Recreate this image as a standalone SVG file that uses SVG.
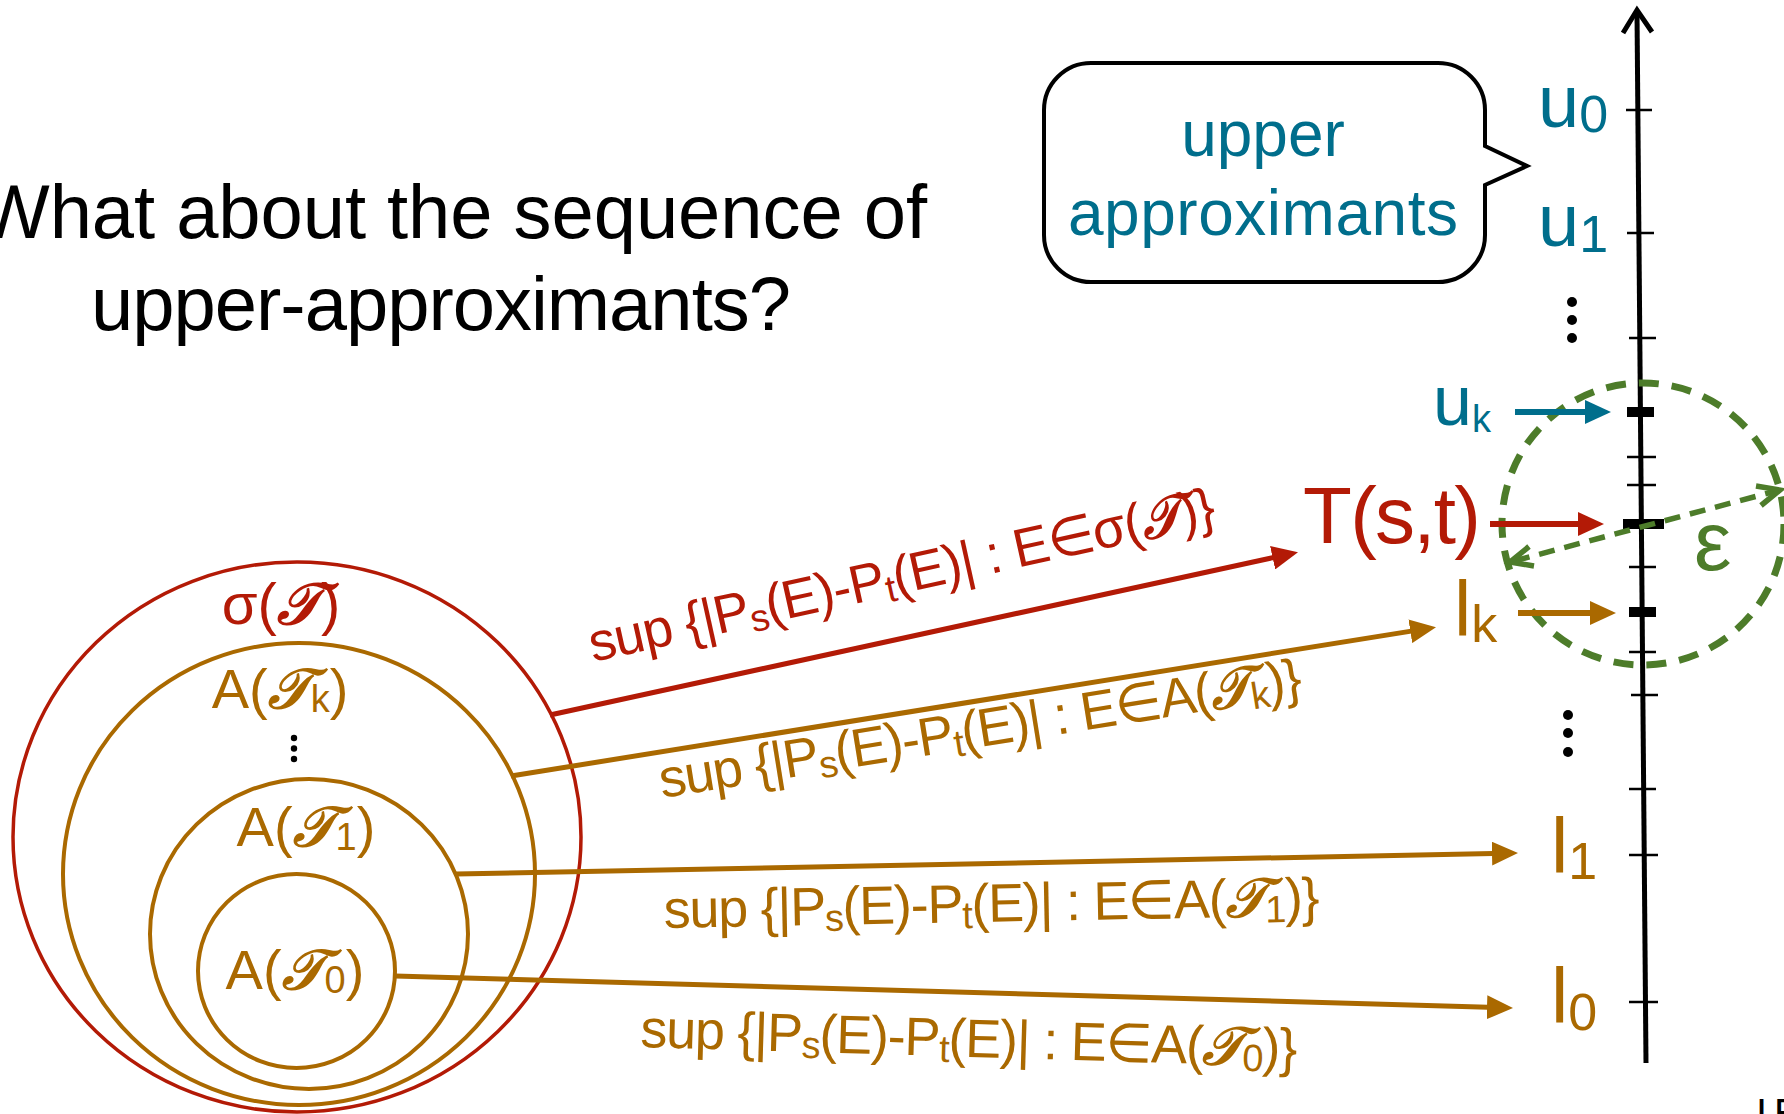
<svg xmlns="http://www.w3.org/2000/svg" width="1784" height="1114" viewBox="0 0 1784 1114">
<style>
text{font-family:"Liberation Sans",Arial,sans-serif}
.red{fill:#b31a06}
.brn{fill:#aa6900}
.teal{fill:#006e8c}
.blk{fill:#000}
.scr{font-family:"DejaVu Serif","DejaVu Sans","Noto Sans",serif;font-style:italic;font-weight:bold}
.ring{fill:none;stroke-width:4}
.cl{fill:none;stroke-width:5}
.tick{stroke:#000;stroke-width:2.5}
.tickb{stroke:#000;stroke-width:10}
.green{stroke:#4d7c2a;fill:none}
</style>
<defs>
<marker id="ah-red" viewBox="0 -12 26 24" refX="1" refY="0" markerWidth="26" markerHeight="24" markerUnits="userSpaceOnUse" orient="auto"><path d="M0,-12 L26,0 L0,12 z" fill="#b31a06"/></marker>
<marker id="ah-brn" viewBox="0 -12 26 24" refX="1" refY="0" markerWidth="26" markerHeight="24" markerUnits="userSpaceOnUse" orient="auto"><path d="M0,-12 L26,0 L0,12 z" fill="#aa6900"/></marker>
<marker id="ah-teal" viewBox="0 -12 26 24" refX="1" refY="0" markerWidth="26" markerHeight="24" markerUnits="userSpaceOnUse" orient="auto"><path d="M0,-12 L26,0 L0,12 z" fill="#006e8c"/></marker>
</defs>
<rect x="0" y="0" width="1784" height="1114" fill="#fff"/>

<g id="title">
<text class="blk" x="-22" y="238" font-size="76" textLength="949">What about the sequence of</text>
<text class="blk" x="91" y="330" font-size="76" textLength="700">upper-approximants?</text>
</g>

<g id="bubble">
<path d="M1091,63 H1438 A47,47 0 0 1 1485,110 V146 L1527,166 L1485,185 V235 A47,47 0 0 1 1438,282 H1091 A47,47 0 0 1 1044,235 V110 A47,47 0 0 1 1091,63 Z" fill="#fff" stroke="#000" stroke-width="4"/>
<text class="teal" x="1263" y="156" font-size="64" text-anchor="middle">upper</text>
<text class="teal" x="1263" y="235" font-size="64" text-anchor="middle" textLength="390">approximants</text>
</g>

<g id="sigma-set">
<ellipse cx="297" cy="837" rx="284" ry="275" fill="none" stroke="#b31a06" stroke-width="3.5"/>
<text class="red" x="281" y="624" font-size="58" text-anchor="middle">σ(<tspan class="scr">𝒯</tspan>)</text>
</g>
<g id="A-Tk">
<ellipse class="ring" cx="299" cy="874" rx="236" ry="231" stroke="#aa6900"/>
<text class="brn" x="280" y="708" font-size="56" text-anchor="middle">A(<tspan class="scr">𝒯</tspan><tspan font-size="38" dy="4">k</tspan><tspan dy="-4">)</tspan></text>
<circle cx="294" cy="738" r="3.2"/><circle cx="294" cy="748.5" r="3.2"/><circle cx="294" cy="759" r="3.2"/>
</g>
<g id="A-T1">
<ellipse class="ring" cx="309" cy="934" rx="159" ry="155" stroke="#aa6900"/>
<text class="brn" x="306" y="846" font-size="56" text-anchor="middle">A(<tspan class="scr">𝒯</tspan><tspan font-size="38" dy="4">1</tspan><tspan dy="-4">)</tspan></text>
</g>
<g id="A-T0">
<ellipse class="ring" cx="296.5" cy="971" rx="98.5" ry="97" stroke="#aa6900"/>
<text class="brn" x="295" y="989" font-size="56" text-anchor="middle">A(<tspan class="scr">𝒯</tspan><tspan font-size="38" dy="4">0</tspan><tspan dy="-4">)</tspan></text>
</g>

<g id="axis">
<line x1="1637" y1="12" x2="1646" y2="1063" stroke="#000" stroke-width="5"/>
<polyline points="1623,33 1637,10 1652,32" fill="none" stroke="#000" stroke-width="5"/>
<line class="tick" x1="1626" y1="110" x2="1652" y2="110"/>
<line class="tick" x1="1627" y1="233" x2="1654" y2="233"/>
<line class="tick" x1="1629" y1="338" x2="1656" y2="338"/>
<line class="tick" x1="1627" y1="457" x2="1656" y2="457"/>
<line class="tick" x1="1627" y1="485" x2="1656" y2="485"/>
<line class="tick" x1="1629" y1="567" x2="1656" y2="567"/>
<line class="tick" x1="1629" y1="652" x2="1656" y2="652"/>
<line class="tick" x1="1631" y1="695" x2="1658" y2="695"/>
<line class="tick" x1="1629" y1="789" x2="1656" y2="789"/>
<line class="tick" x1="1629" y1="855" x2="1658" y2="855"/>
<line class="tick" x1="1629" y1="1002" x2="1658" y2="1002"/>
<line class="tickb" x1="1627" y1="412" x2="1654" y2="412"/>
<line class="tickb" x1="1623" y1="524" x2="1664" y2="524"/>
<line class="tickb" x1="1629" y1="612" x2="1656" y2="612"/>
</g>

<g id="u0"><text class="teal" x="1538" y="127" font-size="74">u<tspan font-size="52" dy="5">0</tspan></text></g>
<g id="u1"><text class="teal" x="1538" y="246" font-size="74">u<tspan font-size="52" dy="6">1</tspan></text></g>
<g id="dots-u"><circle cx="1572" cy="302" r="5"/><circle cx="1572" cy="320" r="5"/><circle cx="1572" cy="338" r="5"/></g>
<g id="uk"><text class="teal" x="1433" y="425" font-size="70">u<tspan font-size="38" dy="7">k</tspan></text></g>
<g id="Tst"><text class="red" x="1303" y="543" font-size="80" textLength="178">T(s,t)</text></g>
<g id="lk"><text class="brn" x="1454" y="636" font-size="78">l<tspan font-size="52" dy="6">k</tspan></text></g>
<g id="dots-l"><circle cx="1568" cy="715" r="5"/><circle cx="1568" cy="733" r="5"/><circle cx="1568" cy="752" r="5"/></g>
<g id="l1"><text class="brn" x="1551" y="873" font-size="78">l<tspan font-size="52" dy="6">1</tspan></text></g>
<g id="l0"><text class="brn" x="1551" y="1023" font-size="78">l<tspan font-size="52" dy="7">0</tspan></text></g>

<g id="epsilon">
<circle class="green" cx="1643" cy="524" r="141" stroke-width="7" stroke-dasharray="20 13"/>
<line class="green" x1="1514" y1="561" x2="1776" y2="491" stroke-width="5.5" stroke-dasharray="16 10"/>
<polyline class="green" points="1756,486 1780,490 1761,505.5" stroke-width="5.5"/>
<polyline class="green" points="1529,546.5 1510,562 1534,566" stroke-width="5.5"/>
<text x="1694" y="570" font-size="84" fill="#4d7c2a">ε</text>
</g>

<g id="connectors">
<line class="cl" x1="550" y1="715" x2="1273.6" y2="557.5" stroke="#b31a06" marker-end="url(#ah-red)"/>
<line class="cl" x1="511" y1="776" x2="1411.3" y2="631.1" stroke="#aa6900" marker-end="url(#ah-brn)"/>
<line class="cl" x1="456" y1="874" x2="1493" y2="853.5" stroke="#aa6900" marker-end="url(#ah-brn)"/>
<line class="cl" x1="395" y1="976" x2="1488" y2="1007.3" stroke="#aa6900" marker-end="url(#ah-brn)"/>
<line x1="1515" y1="412" x2="1586" y2="412" stroke="#006e8c" stroke-width="6" marker-end="url(#ah-teal)"/>
<line x1="1490" y1="524" x2="1579" y2="524" stroke="#b31a06" stroke-width="6" marker-end="url(#ah-red)"/>
<line x1="1518" y1="613" x2="1591" y2="613" stroke="#aa6900" stroke-width="6" marker-end="url(#ah-brn)"/>
<text class="red" transform="translate(593,662) rotate(-12.5)" font-size="54" textLength="640">sup {|P<tspan font-size="38" dy="6">s</tspan><tspan dy="-6">(E)-P</tspan><tspan font-size="38" dy="6">t</tspan><tspan dy="-6">(E)| : E∈σ(</tspan><tspan class="scr">𝒯</tspan>)}</text>
<text class="brn" transform="translate(662,798) rotate(-9.1)" font-size="54" textLength="650">sup {|P<tspan font-size="38" dy="6">s</tspan><tspan dy="-6">(E)-P</tspan><tspan font-size="38" dy="6">t</tspan><tspan dy="-6">(E)| : E∈A(</tspan><tspan class="scr">𝒯</tspan><tspan font-size="38" dy="6">k</tspan><tspan dy="-6">)}</tspan></text>
<text class="brn" transform="translate(664,928) rotate(-1.1)" font-size="54" textLength="656">sup {|P<tspan font-size="38" dy="6">s</tspan><tspan dy="-6">(E)-P</tspan><tspan font-size="38" dy="6">t</tspan><tspan dy="-6">(E)| : E∈A(</tspan><tspan class="scr">𝒯</tspan><tspan font-size="38" dy="6">1</tspan><tspan dy="-6">)}</tspan></text>
<text class="brn" transform="translate(640,1047) rotate(1.7)" font-size="54" textLength="657">sup {|P<tspan font-size="38" dy="6">s</tspan><tspan dy="-6">(E)-P</tspan><tspan font-size="38" dy="6">t</tspan><tspan dy="-6">(E)| : E∈A(</tspan><tspan class="scr">𝒯</tspan><tspan font-size="38" dy="6">0</tspan><tspan dy="-6">)}</tspan></text>
</g>

<g id="footer"><text class="blk" x="1756" y="1127" font-size="40">I<tspan x="1774">E</tspan></text></g>
</svg>
